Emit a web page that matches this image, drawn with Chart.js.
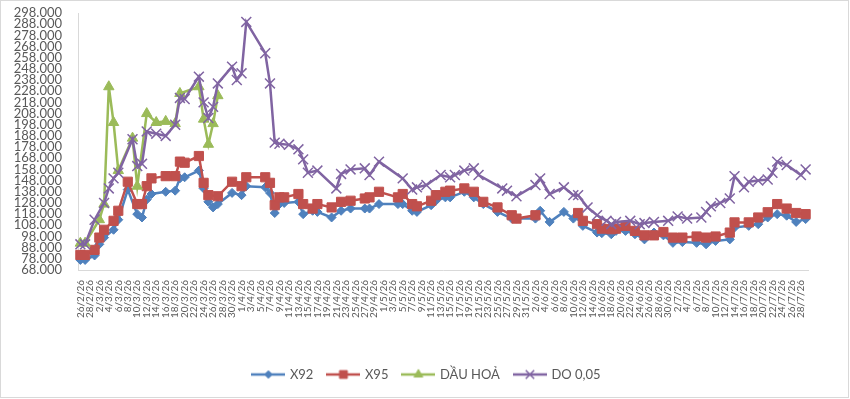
<!DOCTYPE html>
<html>
<head>
<meta charset="utf-8">
<script src="https://cdn.jsdelivr.net/npm/chart.js@4.4.1/dist/chart.umd.min.js"></script>
<style>
  html, body { margin: 0; padding: 0; background: #fff; }
</style>
</head>
<body>
<canvas id="chartCanvas" width="850" height="399"></canvas>
<script>
// one label per day, 26/2/26 .. 29/7/26 (only every second one is shown)
var dayLabels = [];
for (var i = 0; i < 154; i++) {
  var dt = new Date(2026, 1, 26 + i);
  dayLabels.push(dt.getDate() + "/" + (dt.getMonth() + 1) + "/" + String(dt.getFullYear()).slice(2));
}

// prices in thousand VND, day = index into dayLabels
var x92Days = [0,1,3,4,5,7,8,10,12,13,14,15,18,20,21,22,25,26,27,28,29,32,34,35,39,40,41,42,43,46,47,49,50,53,55,57,60,61,63,67,68,70,71,74,75,77,78,81,83,85,88,91,92,96,97,99,102,104,105,106,109,110,112,113,115,117,119,121,123,125,127,130,132,134,137,138,141,143,145,147,149,151,153];
var x92Values = [77,77,81,91,97,104,113,140,118,115,131,136,138,139,150,151,157,141,129,124,127,137,135,143,142,137,119,127,128,129,118,121,120,115,121,123,123,123,127,127,127,121,120,126,130,133,133,138,133,127,120,114,114,114,121,111,120,114,116,107.5,101.5,101,100,103,103,100,95.4,101.5,99,92.3,93,92.3,91,94,95.4,106,107.5,109,115,118,116.6,111,113.6];

var x95Days = [0,1,3,4,5,7,8,10,12,13,14,15,18,20,21,22,25,26,27,29,32,34,35,39,40,41,42,43,46,47,49,50,53,55,57,60,61,63,67,68,70,71,74,75,77,78,81,83,85,88,91,92,96,100,105,106,109,110,112,113,115,117,119,121,123,125,127,130,132,134,137,138,141,143,145,147,149,151,153];
var x95Values = [81.5,81.5,86,97,104,112,121,147,127,127,143,150,152,152,165,164,170,146,135,134,147,143,151,151,146,126,133,133,136,127,123,127,124,129,130,132,133,138,133,136,127,125,130,135,138,139,141,138,129,124,117,114,117,null,119,112,109,105,104.5,105,107.5,103,99,99,102,97,97,98,97,98,101.5,110.6,110.6,115,119.7,127,123,119,118];

var dhDays = [0,1,4,5,6,7,8,11,12,14,16,18,20,21,25,26,27,28,29];
var dhValues = [92,92,113,127,232,200,157,186,143,208,200,201,199,226,232,203,180.5,199,224];

var doDays = [0,1,3,5,6,7,8,11,12,13,14,16,18,20,21,22,25,26,27,28,29,32,33,34,35,39,40,41,42,44,46,47,48,50,54,55,57,60,61,63,68,70,71,73,76,78,79,81,83,84,89,90,92,96,97,99,102,104,105,107,109,111,112,113,116,118,119,121,124,126,128,131,132,133,135,137,138,140,141,143,145,146,147,149,152,153];
var doValues = [91,91,113,128,141,150,155,185,161,163,192,190,188,198,222,221,241,218,204,214,235,250,238,244,290,262,235,182,181,180,176,167,155,157,141,154,158,159,153,165,150,140,142,144,153,151,153,157,159,153,141,139,134,144,150,136,142,135,135,124,117,112,109,111,112,109,110,111,112,116,114,115,120,125,128,132,152,142,147,148,149,155,165,162,153,158];

var seriesNames = ["X92", "X95", "DẦU HOẢ", "DO 0,05"];
var seriesColors = ["#4F81BD", "#C0504D", "#9BBB59", "#8064A2"];

function toPoints(days, values) {
  return days.map(function (d, k) {
    return { x: dayLabels[d], y: values[k] };
  });
}

function formatVnd(v) {
  return String(Math.round(v * 1000)).replace(/\B(?=(\d{3})+(?!\d))/g, ".");
}

// little line + marker pictures for the legend
function legendIcon(color, style, radius, width) {
  var c = document.createElement("canvas");
  c.width = 34;
  c.height = 16;
  var ctx = c.getContext("2d");
  ctx.strokeStyle = color;
  ctx.lineWidth = 2.5;
  ctx.beginPath();
  ctx.moveTo(0, 8);
  ctx.lineTo(34, 8);
  ctx.stroke();
  ctx.fillStyle = color;
  ctx.lineWidth = width;
  Chart.helpers.drawPoint(ctx, { pointStyle: style, radius: radius, borderWidth: width, rotation: 0 }, 17, 8);
  return c;
}

var markerStyles = ["rectRot", "rect", "triangle", "crossRot"];
var markerSizes = [4.5, 6.5, 6, 7];
var markerBorders = [1, 1, 1, 1.5];
var icons = seriesColors.map(function (c, k) {
  return legendIcon(c, markerStyles[k], markerSizes[k] * 0.85, markerBorders[k]);
});

var allDays = [x92Days, x95Days, dhDays, doDays];
var allValues = [x92Values, x95Values, dhValues, doValues];

var datasets = seriesNames.map(function (name, k) {
  return {
    label: name,
    data: toPoints(allDays[k], allValues[k]),
    borderColor: seriesColors[k],
    backgroundColor: seriesColors[k],
    borderWidth: 2.5,
    pointStyle: markerStyles[k],
    pointRadius: markerSizes[k],
    pointBorderWidth: markerBorders[k],
    pointBorderColor: seriesColors[k],
    pointBackgroundColor: seriesColors[k],
    tension: 0,
    spanGaps: false,
    order: 4 - k
  };
});

var framePlugin = {
  id: "frame",
  afterLayout: function (chart) {
    // legend sits a bit right of the canvas centre, as in the original
    if (chart.legend) {
      chart.legend.left += 23;
      chart.legend.right += 23;
    }
  },
  beforeDraw: function (chart) {
    var ctx = chart.ctx;
    ctx.save();
    ctx.fillStyle = "#ffffff";
    ctx.fillRect(0, 0, chart.width, chart.height);
    ctx.restore();
  },
  afterDraw: function (chart) {
    var ctx = chart.ctx;
    ctx.save();
    ctx.strokeStyle = "#d9d9d9";
    ctx.lineWidth = 1;
    ctx.strokeRect(0.5, 0.5, chart.width - 2, chart.height - 2);
    ctx.restore();
  }
};

var canvas = document.getElementById("chartCanvas");
var priceChart = new Chart(canvas, {
  type: "line",
  data: { labels: dayLabels, datasets: datasets },
  plugins: [framePlugin],
  options: {
    responsive: false,
    animation: false,
    devicePixelRatio: 1,
    layout: { padding: { top: 13, right: 42, bottom: 8, left: 0 } },
    plugins: {
      tooltip: { enabled: false },
      legend: {
        position: "bottom",
        labels: {
          usePointStyle: true,
          pointStyleWidth: 30,
          padding: 15,
          color: "#595959",
          font: { family: "Lato", size: 13 },
          sort: function (a, b) { return a.datasetIndex - b.datasetIndex; },
          generateLabels: function (chart) {
            var items = Chart.defaults.plugins.legend.labels.generateLabels(chart);
            items.forEach(function (it) { it.pointStyle = icons[it.datasetIndex]; });
            return items;
          }
        }
      }
    },
    scales: {
      x: {
        type: "category",
        offset: true,
        grid: { display: false, drawTicks: false },
        border: { display: true, color: "#d9d9d9", width: 1 },
        ticks: {
          autoSkip: false,
          minRotation: 90,
          maxRotation: 90,
          padding: 10,
          color: "#595959",
          font: { family: "Lato", size: 10 },
          callback: function (val, idx) {
            return idx % 2 === 0 ? this.getLabelForValue(val) : "";
          }
        },
        afterFit: function (scale) { scale.height = 83; }
      },
      y: {
        min: 68,
        max: 298,
        grid: { display: false, drawTicks: false },
        border: { display: true, color: "#d9d9d9", width: 1 },
        ticks: {
          autoSkip: false,
          stepSize: 10,
          padding: 16,
          color: "#595959",
          font: { family: "Lato", size: 13 },
          callback: function (v) { return formatVnd(v); }
        },
        afterFit: function (scale) {
          scale.width = 78;
          scale.paddingTop = 0;
          scale.paddingBottom = 0;
        }
      }
    }
  }
});
</script>
</body>
</html>
